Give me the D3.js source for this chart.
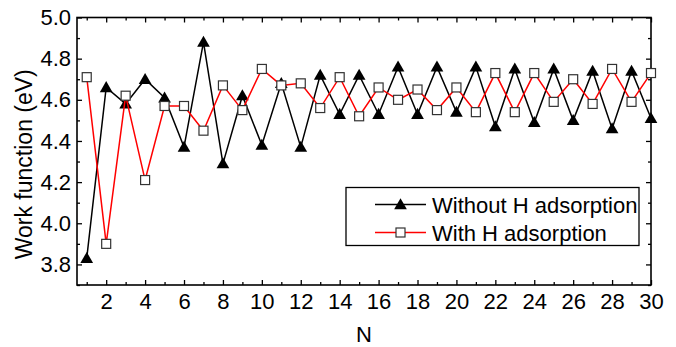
<!DOCTYPE html>
<html>
<head>
<meta charset="utf-8">
<script src="https://cdn.jsdelivr.net/npm/d3@7"></script>
<style>
  html, body { margin: 0; padding: 0; background: #fff; }
  svg { display: block; font-family: "Liberation Sans", Arial, sans-serif; }
</style>
</head>
<body>
<svg id="chart" width="676" height="347"></svg>
<script>
const nValues = d3.range(1, 31);
const withoutH = [3.83, 4.66, 4.58, 4.70, 4.61, 4.37, 4.88, 4.29, 4.62, 4.38,
                  4.68, 4.37, 4.72, 4.53, 4.72, 4.53, 4.76, 4.53, 4.76, 4.54,
                  4.76, 4.47, 4.75, 4.49, 4.75, 4.50, 4.74, 4.46, 4.74, 4.51];
const withH    = [4.71, 3.90, 4.62, 4.21, 4.57, 4.57, 4.45, 4.67, 4.55, 4.75,
                  4.67, 4.68, 4.56, 4.71, 4.52, 4.66, 4.60, 4.65, 4.55, 4.66,
                  4.54, 4.73, 4.54, 4.73, 4.59, 4.70, 4.58, 4.75, 4.59, 4.73];
const xTicks = [2, 4, 6, 8, 10, 12, 14, 16, 18, 20, 22, 24, 26, 28, 30];
const yTicks = [3.8, 4.0, 4.2, 4.4, 4.6, 4.8, 5.0];
const seriesNames = ["Without H adsorption", "With H adsorption"];

const svg = d3.select("#chart");
const pL = 77, pR = 651, pT = 17.5, pB = 285;
const x = d3.scaleLinear().domain([0.5, 30]).range([pL, pR]);
const y = d3.scaleLinear().domain([3.7, 5.0]).range([pB, pT]);

const minorX = d3.range(1, 30, 2);
const minorY = [3.7, 3.9, 4.1, 4.3, 4.5, 4.7, 4.9];

// Frame
svg.append("rect").attr("x", pL).attr("y", pT)
  .attr("width", pR - pL).attr("height", pB - pT)
  .attr("fill", "none").attr("stroke", "#000").attr("stroke-width", 1.6);

// Axes with inward ticks
const fmtY = d3.format(".1f");
svg.append("g").attr("transform", `translate(0,${pB})`)
  .call(d3.axisBottom(x).tickValues(xTicks).tickSize(-5).tickPadding(8).tickFormat(d3.format("d")));
svg.append("g").attr("transform", `translate(${pL},0)`)
  .call(d3.axisLeft(y).tickValues(yTicks).tickSize(-5).tickPadding(6).tickFormat(fmtY));
svg.append("g").attr("transform", `translate(0,${pT})`)
  .call(d3.axisTop(x).tickValues(xTicks).tickSize(-5).tickFormat(""));
svg.append("g").attr("transform", `translate(${pR},0)`)
  .call(d3.axisRight(y).tickValues(yTicks).tickSize(-5).tickFormat(""));
// minor ticks
svg.append("g").attr("transform", `translate(0,${pB})`)
  .call(d3.axisBottom(x).tickValues(minorX).tickSize(-3).tickFormat(""));
svg.append("g").attr("transform", `translate(0,${pT})`)
  .call(d3.axisTop(x).tickValues(minorX).tickSize(-3).tickFormat(""));
svg.append("g").attr("transform", `translate(${pL},0)`)
  .call(d3.axisLeft(y).tickValues(minorY).tickSize(-3).tickFormat(""));
svg.append("g").attr("transform", `translate(${pR},0)`)
  .call(d3.axisRight(y).tickValues(minorY).tickSize(-3).tickFormat(""));

svg.selectAll(".domain").remove();
svg.selectAll(".tick line").attr("stroke", "#000").attr("stroke-width", 1.3);
svg.selectAll(".tick text").attr("fill", "#000").style("font-size", "22px")
  .style("font-family", "'Liberation Sans', Arial, sans-serif");

// Axis titles
svg.append("text").attr("x", (pL + pR) / 2).attr("y", 342)
  .attr("text-anchor", "middle").style("font-size", "22px").text("N");
svg.append("text").attr("transform", `translate(32,${(pT + pB) / 2 + 13}) rotate(-90)`)
  .attr("text-anchor", "middle").style("font-size", "23px").text("Work function (eV)");

// Series
const line = d3.line().x((d, i) => x(nValues[i])).y(d => y(d));
const tri = d3.symbol().type(d3.symbolTriangle).size(70);

const gBlack = svg.append("g");
gBlack.append("path").datum(withoutH).attr("d", line)
  .attr("fill", "none").attr("stroke", "#000").attr("stroke-width", 1.5);
gBlack.selectAll("path.m").data(withoutH).enter().append("path").attr("class", "m")
  .attr("d", tri).attr("transform", (d, i) => `translate(${x(nValues[i])},${y(d) + 1})`)
  .attr("fill", "#000");

const gRed = svg.append("g");
gRed.append("path").datum(withH).attr("d", line)
  .attr("fill", "none").attr("stroke", "#ff0000").attr("stroke-width", 1.5);
gRed.selectAll("rect").data(withH).enter().append("rect")
  .attr("x", (d, i) => x(nValues[i]) - 4.5).attr("y", d => y(d) - 4.5)
  .attr("width", 9).attr("height", 9)
  .attr("fill", "#fff").attr("stroke", "#333").attr("stroke-width", 1.2);

// Legend
const lg = svg.append("g");
lg.append("rect").attr("x", 346).attr("y", 187.5).attr("width", 293).attr("height", 58)
  .attr("fill", "#fff").attr("stroke", "#000").attr("stroke-width", 1.3);
const ly = [204.5, 232.5];
lg.append("line").attr("x1", 375).attr("x2", 426).attr("y1", ly[0]).attr("y2", ly[0])
  .attr("stroke", "#000").attr("stroke-width", 1.5);
lg.append("path").attr("d", tri).attr("transform", `translate(400.5,${ly[0] + 1})`).attr("fill", "#000");
lg.append("line").attr("x1", 375).attr("x2", 426).attr("y1", ly[1]).attr("y2", ly[1])
  .attr("stroke", "#ff0000").attr("stroke-width", 1.5);
lg.append("rect").attr("x", 396).attr("y", ly[1] - 4.5).attr("width", 9).attr("height", 9)
  .attr("fill", "#fff").attr("stroke", "#333").attr("stroke-width", 1.2);
lg.selectAll("text.l").data(seriesNames).enter().append("text").attr("class", "l")
  .attr("x", 432).attr("y", (d, i) => ly[i] + 8).style("font-size", "22px").text(d => d);
</script>
</body>
</html>
